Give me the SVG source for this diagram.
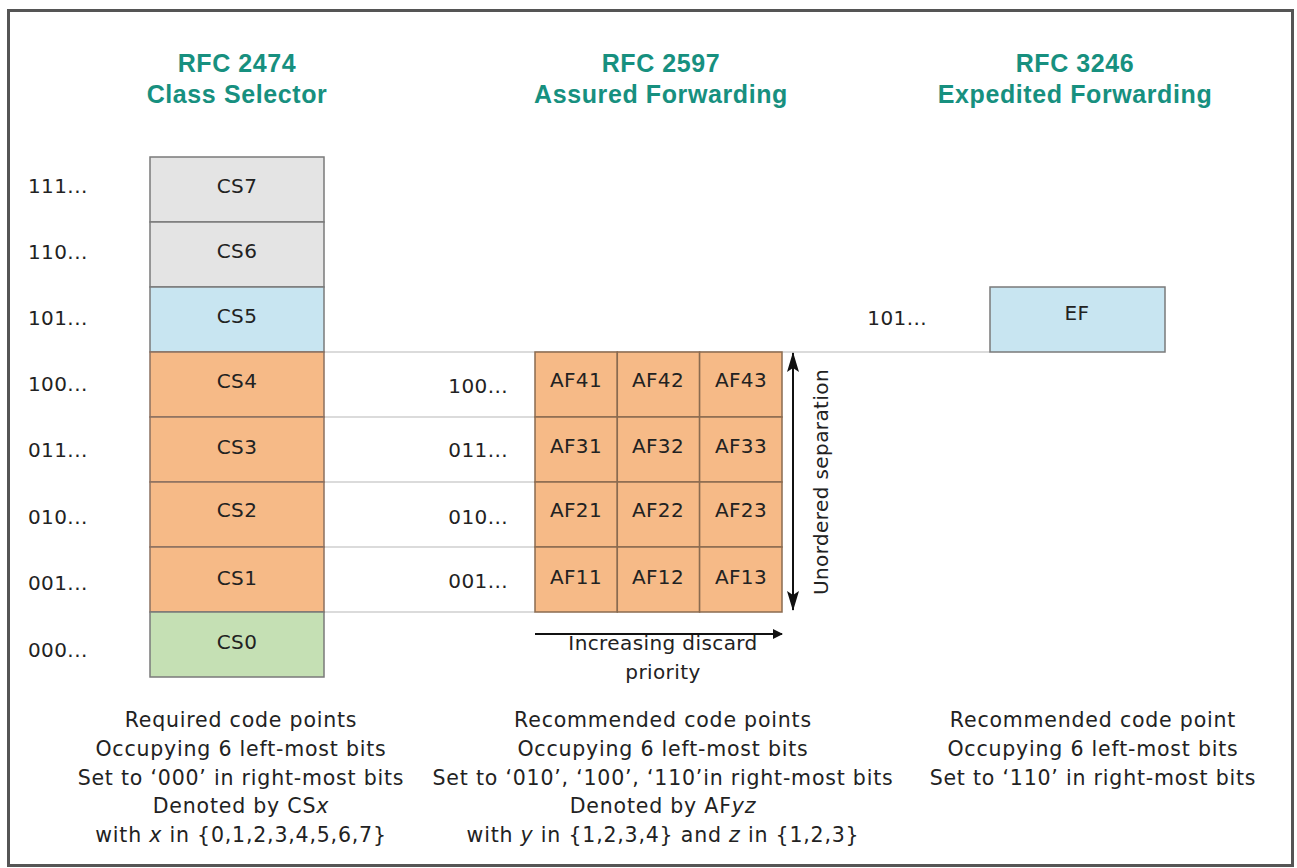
<svg xmlns="http://www.w3.org/2000/svg" width="1297" height="868" viewBox="0 0 1297 868">
<defs>
<marker id="ah" viewBox="0 0 10 10" refX="9" refY="5" markerWidth="10" markerHeight="10" markerUnits="userSpaceOnUse" orient="auto-start-reverse">
<path d="M0,0 L10,5 L0,10 Z" fill="#111"/>
</marker>
<marker id="ahv" viewBox="0 0 20 12" refX="19" refY="6" markerWidth="20" markerHeight="12" markerUnits="userSpaceOnUse" orient="auto-start-reverse">
<path d="M0,0 L20,6 L0,12 L4,6 Z" fill="#111"/>
</marker>
</defs>
<style>
text{font-family:"DejaVu Sans","Liberation Sans",sans-serif;fill:#222}
.title{font-family:"Liberation Sans",Arial,sans-serif;font-size:25px;font-weight:bold;fill:#17907f;text-anchor:middle;letter-spacing:0.6px}
.lbl{font-size:20px;letter-spacing:0.4px}
.mid{text-anchor:middle}
.end{text-anchor:end}
.cell{font-size:20px;text-anchor:middle;letter-spacing:0.4px}
.desc{font-size:20.5px;text-anchor:middle;letter-spacing:0.8px}
.gray{fill:#e4e4e4;stroke:#7a7a7a;stroke-width:1.5}
.blue{fill:#c8e5f1;stroke:#7a7a7a;stroke-width:1.5}
.orange{fill:#f6ba87;stroke:#8a7060;stroke-width:1.5}
.green{fill:#c5e0b4;stroke:#7a7a7a;stroke-width:1.5}
.af{fill:#f6ba87;stroke:#8a6b50;stroke-width:1.5}
.guide{stroke:#cfcfcf;stroke-width:1.5;fill:none}
</style>
<rect x="0" y="0" width="1297" height="868" fill="#ffffff"/>
<rect x="8.5" y="10.5" width="1284" height="855" fill="none" stroke="#555" stroke-width="3"/>

<g id="titles">
<text class="title" x="237" y="72">RFC 2474</text>
<text class="title" x="237" y="103">Class Selector</text>
<text class="title" x="661" y="72">RFC 2597</text>
<text class="title" x="661" y="103">Assured Forwarding</text>
<text class="title" x="1075" y="72">RFC 3246</text>
<text class="title" x="1075" y="103">Expedited Forwarding</text>
</g>

<g id="connectors">
<line class="guide" x1="324" y1="352" x2="990" y2="352"/>
<line class="guide" x1="324" y1="417" x2="535" y2="417"/>
<line class="guide" x1="324" y1="482" x2="535" y2="482"/>
<line class="guide" x1="324" y1="547" x2="535" y2="547"/>
<line class="guide" x1="324" y1="612" x2="535" y2="612"/>
<line x1="793" y1="353" x2="793" y2="610" stroke="#111" stroke-width="2" marker-start="url(#ahv)" marker-end="url(#ahv)"/>
<line x1="535" y1="634" x2="782" y2="634" stroke="#111" stroke-width="2" marker-end="url(#ah)"/>
</g>

<g id="row-labels">
<text class="lbl" x="28" y="193">111...</text>
<text class="lbl" x="28" y="259">110...</text>
<text class="lbl" x="28" y="325">101...</text>
<text class="lbl" x="28" y="391">100...</text>
<text class="lbl" x="28" y="457">011...</text>
<text class="lbl" x="28" y="524">010...</text>
<text class="lbl" x="28" y="590">001...</text>
<text class="lbl" x="28" y="657">000...</text>
<text class="lbl end" x="508" y="393">100...</text>
<text class="lbl end" x="508" y="457">011...</text>
<text class="lbl end" x="508" y="524">010...</text>
<text class="lbl end" x="508" y="588">001...</text>
<text class="lbl end" x="927" y="325">101...</text>
</g>

<g id="cs7"><rect class="gray" x="150" y="157" width="174" height="65"/><text class="cell" x="237" y="193">CS7</text></g>
<g id="cs6"><rect class="gray" x="150" y="222" width="174" height="65"/><text class="cell" x="237" y="258">CS6</text></g>
<g id="cs5"><rect class="blue" x="150" y="287" width="174" height="65"/><text class="cell" x="237" y="323">CS5</text></g>
<g id="cs4"><rect class="orange" x="150" y="352" width="174" height="65"/><text class="cell" x="237" y="388">CS4</text></g>
<g id="cs3"><rect class="orange" x="150" y="417" width="174" height="65"/><text class="cell" x="237" y="454">CS3</text></g>
<g id="cs2"><rect class="orange" x="150" y="482" width="174" height="65"/><text class="cell" x="237" y="517">CS2</text></g>
<g id="cs1"><rect class="orange" x="150" y="547" width="174" height="65"/><text class="cell" x="237" y="585">CS1</text></g>
<g id="cs0"><rect class="green" x="150" y="612" width="174" height="65"/><text class="cell" x="237" y="649">CS0</text></g>

<g id="af4">
<rect class="af" x="535" y="352" width="82.3" height="65"/><text class="cell" x="576" y="387">AF41</text>
<rect class="af" x="617.3" y="352" width="82.3" height="65"/><text class="cell" x="658" y="387">AF42</text>
<rect class="af" x="699.6" y="352" width="82.4" height="65"/><text class="cell" x="741" y="387">AF43</text>
</g>
<g id="af3">
<rect class="af" x="535" y="417" width="82.3" height="65"/><text class="cell" x="576" y="453">AF31</text>
<rect class="af" x="617.3" y="417" width="82.3" height="65"/><text class="cell" x="658" y="453">AF32</text>
<rect class="af" x="699.6" y="417" width="82.4" height="65"/><text class="cell" x="741" y="453">AF33</text>
</g>
<g id="af2">
<rect class="af" x="535" y="482" width="82.3" height="65"/><text class="cell" x="576" y="517">AF21</text>
<rect class="af" x="617.3" y="482" width="82.3" height="65"/><text class="cell" x="658" y="517">AF22</text>
<rect class="af" x="699.6" y="482" width="82.4" height="65"/><text class="cell" x="741" y="517">AF23</text>
</g>
<g id="af1">
<rect class="af" x="535" y="547" width="82.3" height="65"/><text class="cell" x="576" y="584">AF11</text>
<rect class="af" x="617.3" y="547" width="82.3" height="65"/><text class="cell" x="658" y="584">AF12</text>
<rect class="af" x="699.6" y="547" width="82.4" height="65"/><text class="cell" x="741" y="584">AF13</text>
</g>

<g id="ef"><rect class="blue" x="990" y="287" width="175" height="65"/><text class="cell" x="1077" y="320">EF</text></g>

<g id="axis-labels">
<text class="lbl mid" transform="translate(828,482) rotate(-90)">Unordered separation</text>
<text class="lbl mid" x="663" y="650">Increasing discard</text>
<text class="lbl mid" x="663" y="679">priority</text>
</g>

<g id="desc-cs">
<text class="desc" x="241" y="727">Required code points</text>
<text class="desc" x="241" y="756">Occupying 6 left-most bits</text>
<text class="desc" x="241" y="785">Set to ‘000’ in right-most bits</text>
<text class="desc" x="241" y="813">Denoted by CS<tspan font-style="italic">x</tspan></text>
<text class="desc" x="241" y="842">with <tspan font-style="italic">x</tspan> in {0,1,2,3,4,5,6,7}</text>
</g>
<g id="desc-af">
<text class="desc" x="663" y="727">Recommended code points</text>
<text class="desc" x="663" y="756">Occupying 6 left-most bits</text>
<text class="desc" x="663" y="785">Set to ‘010’, ‘100’, ‘110’in right-most bits</text>
<text class="desc" x="663" y="813">Denoted by AF<tspan font-style="italic">yz</tspan></text>
<text class="desc" x="663" y="842">with <tspan font-style="italic">y</tspan> in {1,2,3,4} and <tspan font-style="italic">z</tspan> in {1,2,3}</text>
</g>
<g id="desc-ef">
<text class="desc" x="1093" y="727">Recommended code point</text>
<text class="desc" x="1093" y="756">Occupying 6 left-most bits</text>
<text class="desc" x="1093" y="785">Set to ‘110’ in right-most bits</text>
</g>
</svg>
